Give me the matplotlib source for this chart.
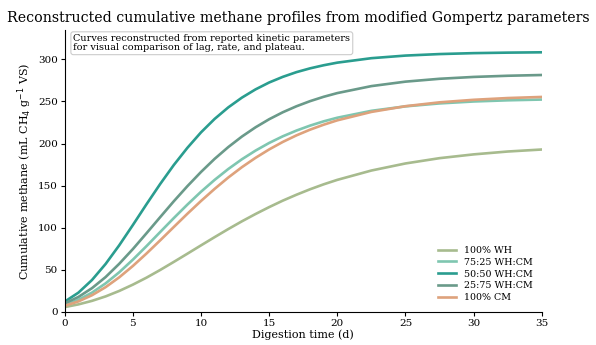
import matplotlib
matplotlib.use('Agg')
import matplotlib.pyplot as plt

plt.rcParams['font.family'] = 'DejaVu Serif'

# digestion time (d)
days = [0, 1, 2, 3, 4, 5, 6, 7, 8, 9, 10, 11, 12, 13, 14, 15, 16, 17, 18, 19, 20,
        22.5, 25, 27.5, 30, 32.5, 35]

# cumulative methane (mL CH4 g-1 VS)
wh_100 = [5.5, 8.7, 12.9, 18.2, 24.7, 32.2, 40.5, 49.6, 59.2, 69.0, 78.9, 88.7, 98.3,
          107.5, 116.2, 124.4, 132.1, 139.1, 145.6, 151.5, 156.8,
          167.9, 176.3, 182.6, 187.1, 190.5, 192.9]
wh_75 = [8.0, 14.1, 22.7, 33.7, 46.9, 61.9, 78.0, 94.7, 111.3, 127.4, 142.7, 156.8, 169.7,
         181.3, 191.6, 200.7, 208.6, 215.4, 221.3, 226.4, 230.7,
         238.9, 244.2, 247.7, 250.0, 251.4, 252.3]
wh_50 = [12.0, 22.6, 37.7, 56.8, 79.0, 103.1, 127.8, 151.8, 174.4, 194.9, 213.3, 229.3, 243.0,
         254.6, 264.4, 272.6, 279.3, 284.9, 289.4, 293.1, 296.2,
         301.5, 304.6, 306.4, 307.5, 308.1, 308.5]
wh_25 = [10.0, 17.5, 28.0, 41.2, 57.0, 74.5, 93.3, 112.4, 131.3, 149.3, 166.2, 181.8, 195.8,
         208.3, 219.3, 228.9, 237.2, 244.3, 250.4, 255.6, 260.0,
         268.3, 273.6, 277.0, 279.2, 280.6, 281.5]
cm_100 = [7.0, 12.2, 19.6, 29.2, 40.9, 54.4, 69.2, 84.8, 100.7, 116.5, 131.7, 146.1, 159.6,
          171.9, 183.0, 193.0, 201.9, 209.7, 216.5, 222.4, 227.6,
          237.6, 244.4, 249.0, 252.0, 254.1, 255.4]

labels = ['100% WH', '75:25 WH:CM', '50:50 WH:CM', '25:75 WH:CM', '100% CM']
colors = ['#a7bb8e', '#7fc6b0', '#2a9d8f', '#6a9a8a', '#dea27c']
series = [wh_100, wh_75, wh_50, wh_25, cm_100]

fig = plt.figure(figsize=(5.96, 3.45), dpi=100)
ax = fig.add_axes([0.1086, 0.0965, 0.8004, 0.8165])

for vals, lab, col in zip(series, labels, colors):
    ax.plot(days, vals, color=col, lw=1.9, label=lab)

ax.set_xlim(0, 35)
ax.set_ylim(0, 335)
ax.set_xticks([0, 5, 10, 15, 20, 25, 30, 35])
ax.set_yticks([0, 50, 100, 150, 200, 250, 300])
ax.tick_params(labelsize=7.5, length=3, width=0.8, pad=2)
for s in ['top', 'right']:
    ax.spines[s].set_visible(False)

ax.set_xlabel('Digestion time (d)', fontsize=8, labelpad=1)
ax.set_ylabel('Cumulative methane (mL CH$_4$ g$^{-1}$ VS)', fontsize=8, labelpad=3)
fig.text(0.5, 0.948, 'Reconstructed cumulative methane profiles from modified Gompertz parameters',
         ha='center', va='center', fontsize=10.2)

ax.text(0.018, 0.985, 'Curves reconstructed from reported kinetic parameters\n'
        'for visual comparison of lag, rate, and plateau.',
        transform=ax.transAxes, ha='left', va='top', fontsize=7, linespacing=1.0,
        bbox=dict(boxstyle='round,pad=0.25', fc='white', ec='#cccccc', lw=0.8))

ax.legend(loc='lower right', frameon=False, fontsize=6.8, handlelength=1.9,
          labelspacing=0.3, borderaxespad=0.6)

fig.savefig('out.png', dpi=100)
